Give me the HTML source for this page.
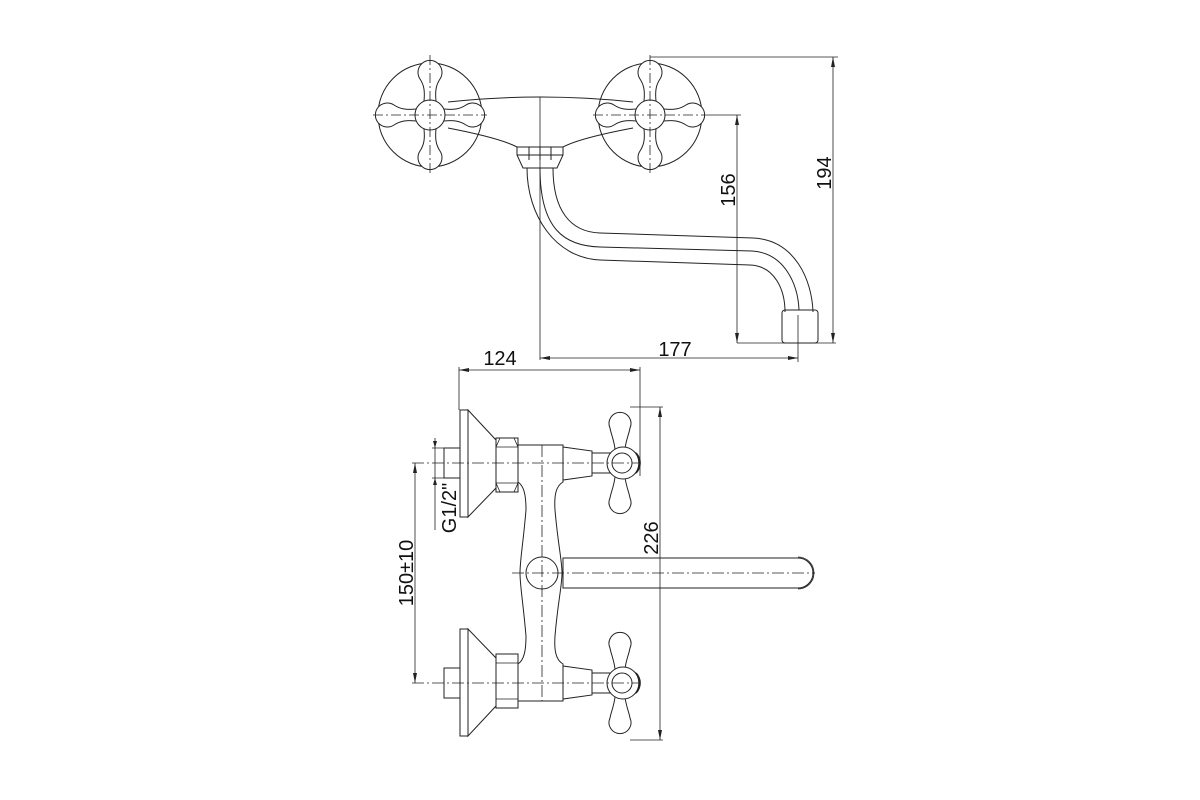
<!DOCTYPE html>
<html><head><meta charset="utf-8"><style>
html,body{margin:0;padding:0;background:#fff;}
svg{display:block;}
text{font-family:"Liberation Sans",sans-serif;font-size:20px;fill:#111;}
</style></head><body>
<svg width="1200" height="800" viewBox="0 0 1200 800" xmlns="http://www.w3.org/2000/svg">
<defs>
<g id="arm"><path d="M14,-6 C24,-5 30,-6 36,-10 A12,12 0 1 1 36,10 C30,6 24,5 14,6" fill="#fff" stroke="#222" stroke-width="1"/></g>
<g id="cross">
 <use href="#arm"/>
 <use href="#arm" transform="rotate(90)"/>
 <use href="#arm" transform="rotate(180)"/>
 <use href="#arm" transform="rotate(270)"/>
 <circle r="15" fill="#fff" stroke="#222" stroke-width="1"/>
</g>
<g id="sideHandle">
 <path d="M592,453 L610,453 L610,473 L592,473 Z" fill="#fff" stroke="#222"/>
 <path d="M615,449 C614,440 611,434 610,428 A11,11 0 1 1 630,428 C629,434 626,440 625,449 Z" fill="#fff" stroke="#222"/>
 <path d="M615,477 C614,486 611,492 610,498 A11,11 0 1 0 630,498 C629,492 626,486 625,477 Z" fill="#fff" stroke="#222"/>
 <circle cx="623" cy="463" r="16" fill="#fff" stroke="#222"/>
 <path d="M633,451 A16,16 0 0 1 633,475 L637,473 A15,15 0 0 0 637,453 Z" fill="#222"/>
 <circle cx="622" cy="463" r="10" fill="none" stroke="#222"/>
</g>
</defs>
<g fill="none" stroke="#222" stroke-width="1">
<!-- TOP VIEW -->
<circle cx="430" cy="115" r="52"/>
<circle cx="650" cy="115" r="52"/>
<path d="M448,102 Q540,92 633,102"/>
<path d="M448,128 Q500,138 517,147 M563,147 Q580,138 633,128"/>
<path d="M517,147 L563,147 L563,155 L557,168 L523,168 L517,155 Z"/>
<path d="M517,155 L563,155 M529,147 L529,160 M540,147 L540,160 M551,147 L551,160"/>
<path d="M527,168 C527,215 555,258 600,260 L750,265 C775,266 785,290 785,312"/>
<path d="M553,168 C553,210 570,232 600,233 L753,238 C795,240 812,280 813,312"/>
<path d="M540,168 C540,230 565,246 600,247 L752,251 C785,253 798,285 799,310"/>
<rect x="782" y="310" width="36" height="33" rx="3"/>
</g>
<use href="#cross" transform="translate(430,115)"/>
<use href="#cross" transform="translate(650,115)"/>
<g stroke="#222" stroke-width="0.8" fill="none">
<path d="M373,115 L487,115 M430,55 L430,175 M593,115 L705,115 M650,55 L650,175" stroke-dasharray="10,3,2,3"/>
<path d="M540,97 L540,360"/>
<path d="M540,358 L798,358 M798,315 L798,362"/>
<path d="M705,115 L741,115 M737,115 L737,343 M737,343 L836,343"/>
<path d="M650,57 L838,57 M833,57 L833,343"/>
</g>
<g fill="#222">
<path d="M540,358 l10,-2 l0,4z M798,358 l-10,-2 l0,4z"/>
<path d="M737,115 l-2,10 l4,0z M737,343 l-2,-10 l4,0z"/>
<path d="M833,57 l-2,10 l4,0z M833,343 l-2,-10 l4,0z"/>
</g>
<text x="675" y="356" text-anchor="middle">177</text>
<text transform="translate(735,190) rotate(-90)" text-anchor="middle">156</text>
<text transform="translate(831,173) rotate(-90)" text-anchor="middle">194</text>

<g stroke="#222" stroke-width="0.8" fill="none">
<path d="M459,370 L640,370 M459,367 L459,410 M640,367 L640,476"/>
</g>
<path d="M459,370 l10,-2 l0,4z M640,370 l-10,-2 l0,4z" fill="#222"/>
<text x="500" y="365" text-anchor="middle">124</text>

<g fill="#fff" stroke="#222" stroke-width="1">
 <path d="M518,445 L563,445 L563,482 C556,486 554,495 555,510 C558,545 562,560 562,573 C562,586 558,601 555,636 C554,651 556,660 563,664 L563,701 L518,701 L518,664 C524,660 526,651 526,636 C523,601 520,586 520,573 C520,560 523,545 526,510 C526,495 524,486 518,482 Z"/>
 <rect x="460" y="410" width="8" height="107"/>
 <path d="M468,410 L496,440 L496,488 L468,517 Z"/>
 <path d="M496,438 L518,438 L518,492 L496,492 Z"/>
 <rect x="444" y="448" width="16" height="30"/>
 <path d="M563,447 L592,451 L592,476 L563,480 Z"/>
 <rect x="460" y="629" width="8" height="107"/>
 <path d="M468,629 L496,658 L496,706 L468,736 Z"/>
 <path d="M496,654 L518,654 L518,708 L496,708 Z"/>
 <rect x="444" y="668" width="16" height="30"/>
 <path d="M563,666 L592,670 L592,695 L563,699 Z"/>
 <path d="M563,558 L798,558 A15,15 0 0 1 798,588 L563,588 Z"/>
 <circle cx="542" cy="573" r="16"/>
</g>
<g stroke="#222" stroke-width="0.8" fill="none">
 <path d="M496,447 L518,447 M496,483 L518,483 M500,438 L496,447 L496,483 L500,492 M514,438 L518,447 L518,483 L514,492"/>
 <path d="M496,663 L518,663 M496,699 L518,699"/>
 <path d="M798,557 A16,16 0 0 1 798,589"/>
</g>
<use href="#sideHandle"/>
<use href="#sideHandle" transform="translate(0,220)"/>
<g stroke="#222" stroke-width="0.8" fill="none">
 <path d="M412,463 L640,463 M412,683 L640,683 M512,573 L815,573 M542,445 L542,701" stroke-dasharray="12,3,2,3"/>
 <path d="M415,463 L415,683"/>
 <path d="M630,407 L663,407 M660,407 L660,740 M630,740 L663,740"/>
 <path d="M435,438 L435,478 M432,448 L444,448 M432,478 L444,478 M435,478 L435,530"/>
</g>
<g fill="#222">
<path d="M415,463 l-2,10 l4,0z M415,683 l-2,-10 l4,0z"/>
<path d="M660,407 l-2,10 l4,0z M660,740 l-2,-10 l4,0z"/>
<path d="M435,448 l-2,-7 l4,0z M435,478 l-2,7 l4,0z"/>
</g>
<text transform="translate(413,573) rotate(-90)" text-anchor="middle">150±10</text>
<text transform="translate(658,538) rotate(-90)" text-anchor="middle">226</text>
<text transform="translate(456,508) rotate(-90)" text-anchor="middle">G1/2"</text>
</svg>
</body></html>
